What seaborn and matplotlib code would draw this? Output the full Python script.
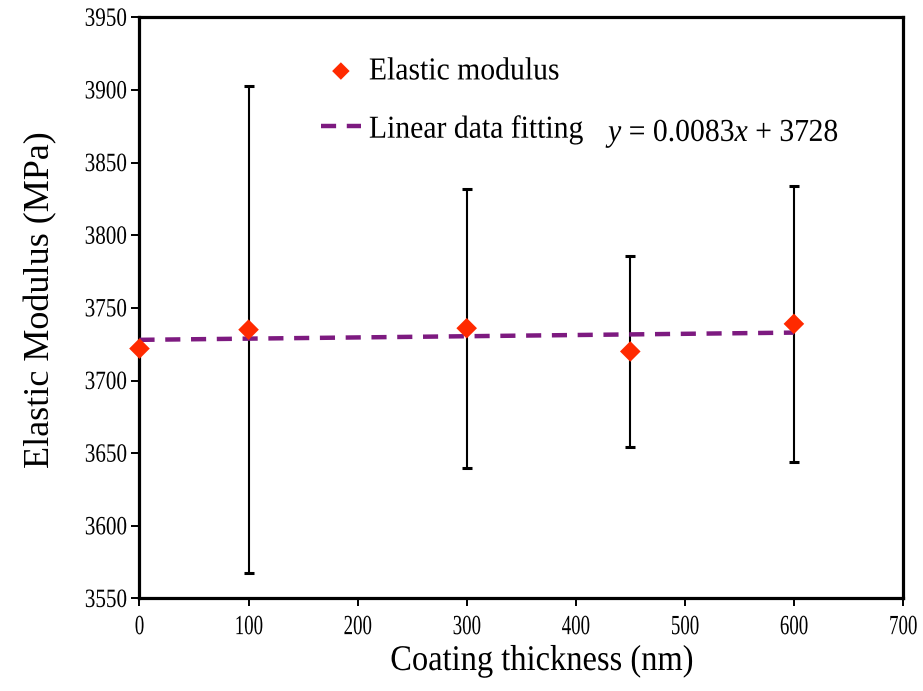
import numpy as np
import pandas as pd
import matplotlib
matplotlib.use("Agg")
import matplotlib.pyplot as plt
from matplotlib.patheffects import AbstractPathEffect
from matplotlib.transforms import Affine2D
import seaborn as sns

# Measured elastic modulus vs coating thickness
thickness_nm = [0, 100, 300, 450, 600]
modulus_mpa = [3722, 3735, 3736, 3720, 3739]
modulus_err = [None, 167.5, 96, 66, 95]

# Linear fit parameters (y = a*x + b)
fit_slope = 0.0083
fit_intercept = 3728

x_ticks = [0, 100, 200, 300, 400, 500, 600, 700]
y_ticks = [3550, 3600, 3650, 3700, 3750, 3800, 3850, 3900, 3950]


class HSqueeze(AbstractPathEffect):
    """Draw text narrower than its natural width (condensed look)."""

    def __init__(self, sx, anchor="center"):
        super().__init__()
        self.sx = sx
        self.anchor = anchor

    def draw_path(self, renderer, gc, tpath, affine, rgbFace=None):
        ext = tpath.get_extents(affine)
        if self.anchor == "left":
            cx = ext.x0
        elif self.anchor == "right":
            cx = ext.x1
        else:
            cx = 0.5 * (ext.x0 + ext.x1)
        squeeze = Affine2D().translate(-cx, 0).scale(self.sx, 1).translate(cx, 0)
        renderer.draw_path(gc, tpath, affine + squeeze, rgbFace)


sns.set_style("ticks")
plt.rcParams["font.family"] = ["Liberation Serif", "DejaVu Serif"]
plt.rcParams["mathtext.fontset"] = "custom"
plt.rcParams["mathtext.rm"] = "Liberation Serif"
plt.rcParams["mathtext.it"] = "Liberation Serif:italic"
plt.rcParams["text.color"] = "black"
plt.rcParams["axes.labelcolor"] = "black"

df = pd.DataFrame({"thickness": thickness_nm, "modulus": modulus_mpa, "err": modulus_err})

fig = plt.figure(figsize=(9.23, 6.91), dpi=100)
ax = fig.add_axes([0.1511, 0.1339, 0.8272, 0.8411])

# error bars (only where a deviation was reported)
eb = df.dropna(subset=["err"])
ax.errorbar(eb["thickness"], eb["modulus"], yerr=eb["err"].astype(float), fmt="none",
            ecolor="black", elinewidth=1.5, capsize=3.8, capthick=2.2, zorder=2)

# fitted line over the measured range
fit_x = np.array([thickness_nm[0], thickness_nm[-1]])
fit_df = pd.DataFrame({"thickness": fit_x, "modulus": fit_slope * fit_x + fit_intercept})
sns.lineplot(data=fit_df, x="thickness", y="modulus", ax=ax, color="#7d1a80",
             linewidth=3.2, dashes=False, label="Linear data fitting", zorder=3)
ax.lines[-1].set_dashes((3.4, 2.4))

sns.scatterplot(data=df, x="thickness", y="modulus", ax=ax, marker="D", s=110,
                color="#ff2a00", edgecolor="none", label="Elastic modulus",
                zorder=4, clip_on=False)

ax.set_xlim(0, 700)
ax.set_ylim(3550, 3950)
ax.set_xticks(x_ticks)
ax.set_yticks(y_ticks)
ax.tick_params(axis="both", direction="out", length=6, width=1.4, color="black",
               labelcolor="black")
ax.tick_params(axis="y", labelsize=19, pad=3)
ax.tick_params(axis="x", labelsize=20, pad=6)
for sp in ax.spines.values():
    sp.set_visible(True)
    sp.set_linewidth(2.3)
    sp.set_color("black")

ax.set_xlabel("Coating thickness (nm)", fontsize=26)
ax.set_ylabel("Elastic Modulus (MPa)", fontsize=26)
ax.xaxis.set_label_coords(0.527, -0.08)
ax.yaxis.set_label_coords(-0.107, 0.514)
ax.xaxis.label.set_path_effects([HSqueeze(0.9)])

handles, labels = ax.get_legend_handles_labels()
order = [labels.index("Elastic modulus"), labels.index("Linear data fitting")]
leg = ax.legend([handles[i] for i in order], [labels[i] for i in order],
                loc="upper left", bbox_to_anchor=(0.2, 0.981), frameon=False,
                fontsize=23, handlelength=1.25, handletextpad=0.25,
                labelspacing=0.9, markerscale=0.85)
for t in leg.get_texts():
    t.set_path_effects([HSqueeze(0.93, "left")])

eq = ax.text(0.614, 0.799, r"$y$ = 0.0083$x$ + 3728", transform=ax.transAxes,
             fontsize=23, ha="left", va="center")
eq.set_path_effects([HSqueeze(0.93, "left")])

for lab in ax.get_yticklabels():
    lab.set_path_effects([HSqueeze(0.8, "right")])
for lab in ax.get_xticklabels():
    lab.set_path_effects([HSqueeze(0.68)])

fig.savefig("out.png", dpi=100)
